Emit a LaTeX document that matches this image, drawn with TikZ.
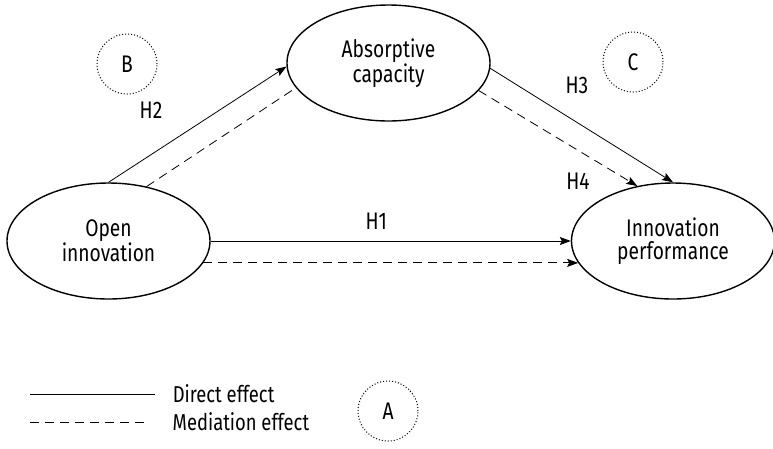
\documentclass[tikz,border=0pt]{standalone}
\usepackage{fontspec}
\setmainfont{Fira Sans}[FakeStretch=0.8]
\usetikzlibrary{arrows.meta,shapes.geometric}
\tikzset{
  construct/.style={ellipse, draw, line width=1.4pt, minimum width=203pt, minimum height=116pt, inner sep=0pt, align=center},
  groupmark/.style={circle, draw, dotted, line width=1pt, minimum size=60pt, inner sep=0pt},
  mediation/.style={dash pattern=on 9pt off 6pt},
  >={Stealth[length=11pt,width=8pt,inset=2pt]}
}
\begin{document}
\begin{tikzpicture}[x=1pt,y=-1pt,font=\fontsize{24}{23}\selectfont]
\useasboundingbox (0,0) rectangle (773,448);

\node[construct] (open) at (108.5,241) {Open\\innovation};
\node[construct] (absorb) at (388.5,63) {Absorptive\\capacity};
\node[construct] (perf) at (673,241) {Innovation\\performance};

\node[groupmark] (b) at (127,64) {B};
\node[groupmark] (c) at (633,62) {C};
\node[groupmark] (a) at (388,411) {A};

% direct effects
\draw[->, line width=0.8pt] (open.east) -- (perf.west) node [pos=0.46, above=8pt] {H1};
\draw[->, line width=0.8pt] (open.north) -- (absorb.182);
\draw[->, line width=0.8pt] (absorb.-3) -- (perf.north);
\node (h2) at (151,110) {H2};
\node (h3) at (577,85) {H3};
\node (h4) at (578,181) {H4};

% mediation effects
\draw[mediation, line width=0.8pt] (open.55) -- (absorb.195);
\draw[->, mediation, line width=0.8pt] (absorb.-17) -- (perf.123);
\draw[->, mediation, line width=0.8pt] (open.-13) -- (perf.193.6);

% legend
\coordinate (d1) at (30,394); \coordinate (d2) at (155,394);
\coordinate (m1) at (30,422); \coordinate (m2) at (148,422);
\begin{scope}[font=\fontsize{23}{23}\selectfont]
\draw[line width=1pt] (d1) -- (d2) node [right=14pt] (direct) {Direct effect};
\draw[mediation, line width=0.8pt] (m1) -- (m2) node [right=21pt] (medi) {Mediation effect};
\end{scope}
\end{tikzpicture}
\end{document}
